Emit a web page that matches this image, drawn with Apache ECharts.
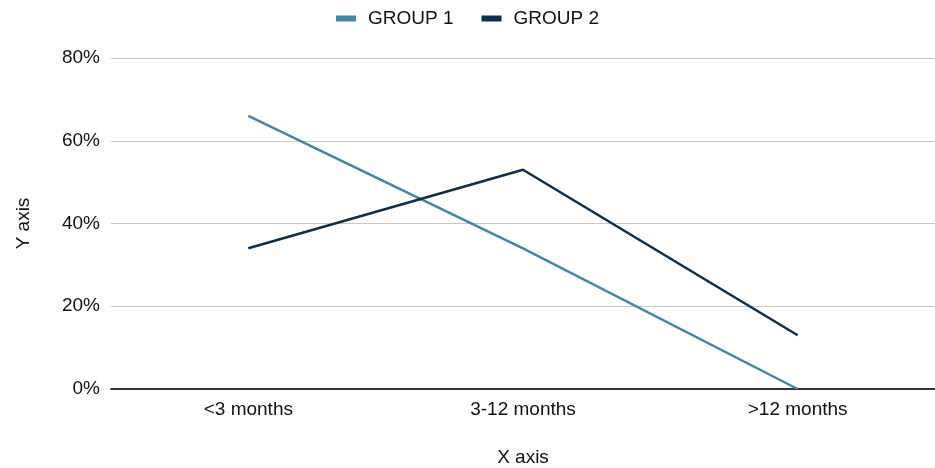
<!DOCTYPE html>
<html><head><meta charset="utf-8">
<script src="https://cdn.jsdelivr.net/npm/echarts@6/dist/echarts.min.js"></script>
<style>html,body{margin:0;padding:0;background:#fff}#c{width:935px;height:468px}</style>
</head><body><div id="c"></div>
<script>
var categories = ['<3 months', '3-12 months', '>12 months'];
var group1 = [66, 34, 0];
var group2 = [34, 53, 13];
var yTicks = [0, 20, 40, 60, 80];
var seriesNames = ['GROUP 1', 'GROUP 2'];

var chart = echarts.init(document.getElementById('c'));
var font = 'Liberation Sans, Arial, sans-serif';
chart.setOption({
  animation: false,
  color: ['#4585a5', '#0c2f4c'],
  legend: {
    top: 4, left: 'center',
    itemWidth: 20, itemHeight: 6, itemGap: 28,
    icon: 'rect',
    textStyle: {fontFamily: font, fontSize: 19, color: '#111', padding: [0, 0, 0, 7]},
    data: seriesNames
  },
  grid: {left: 111, right: 0, top: 58, bottom: 79, containLabel: false, outerBoundsMode: 'none'},
  xAxis: {
    type: 'category', data: categories, boundaryGap: true,
    name: 'X axis', nameLocation: 'middle', nameGap: 59,
    nameTextStyle: {fontFamily: font, fontSize: 19, color: '#111'},
    axisLine: {lineStyle: {color: '#333', width: 2}},
    axisTick: {show: false},
    axisLabel: {fontFamily: font, fontSize: 19, color: '#111', margin: 11}
  },
  yAxis: {
    type: 'value', min: yTicks[0], max: yTicks[yTicks.length - 1], interval: 20,
    name: 'Y axis', nameLocation: 'middle', nameGap: 78, nameRotate: 90,
    nameTextStyle: {fontFamily: font, fontSize: 19, color: '#111'},
    axisLine: {show: false}, axisTick: {show: false},
    axisLabel: {fontFamily: font, fontSize: 19, color: '#111', margin: 11, formatter: '{value}%'},
    splitLine: {lineStyle: {color: '#c8c8c8', width: 1}}
  },
  series: [
    {name: seriesNames[0], type: 'line', data: group1, symbol: 'none', lineStyle: {width: 2.5}},
    {name: seriesNames[1], type: 'line', data: group2, symbol: 'none', lineStyle: {width: 2.5}}
  ]
});
</script></body></html>
